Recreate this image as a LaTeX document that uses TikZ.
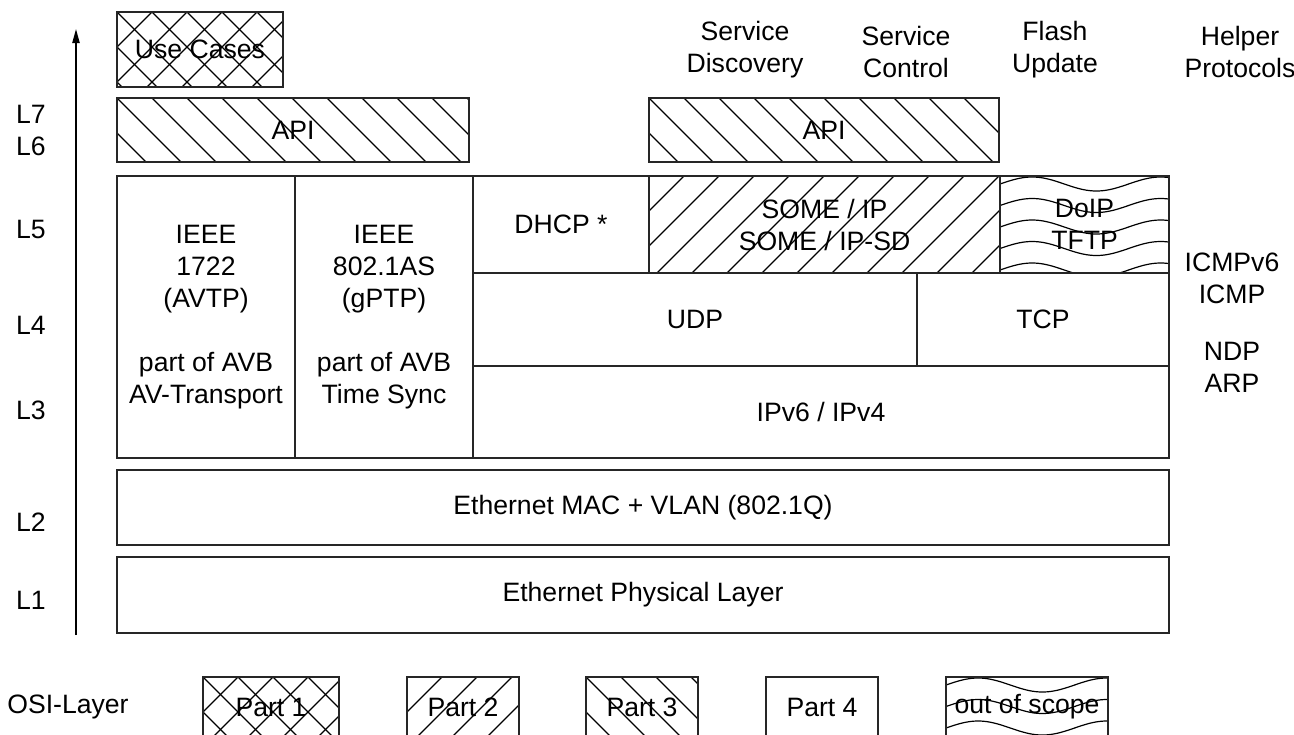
\documentclass[tikz,border=0pt]{standalone}
\usepackage{fontspec}
\setmainfont{Liberation Sans}
\usetikzlibrary{arrows.meta,fit}
\newcommand\fsz{\fontsize{13.3}{16}\selectfont}
\tikzset{
  boxst/.style={draw=black!85, line width=0.75pt, inner sep=0pt},
  hl/.style={line width=0.6pt, black},
  txt/.style={align=center, font=\fsz, inner sep=0pt},
}
% "\" hatching
\newcommand\hbk[4]{\begin{scope}\clip (#1,#2) rectangle (#3,#4);
  \foreach \k in {-3,...,12}{\draw[hl] ({#1+35*\k},#2) -- ++(100,100);}
  \end{scope}}
% "/" hatching
\newcommand\hfw[4]{\begin{scope}\clip (#1,#2) rectangle (#3,#4);
  \foreach \k in {0,...,15}{\draw[hl] ({#1+35*\k},#2) -- ++(-100,100);}
  \end{scope}}
% cross hatching
\newcommand\hcr[4]{\hbk{#1}{#2}{#3}{#4}\hfw{#1}{#2}{#3}{#4}}
% waves
\newcommand\hwv[4]{\begin{scope}\clip (#1,#2) rectangle (#3,#4);
  \foreach \r in {0,...,5}{\draw[hl,domain=#1:#3,samples=70,smooth,variable=\t]
     plot (\t,{#2+8+21.5*\r-7*sin(2.8*(\t-#1))});}
  \end{scope}}
\begin{document}
\begin{tikzpicture}[x=0.5pt,y=-0.5pt]
\clip (0,0) rectangle (1294,734);
% hatching
\hcr{117}{12}{283}{87}
\hbk{117}{98}{469}{162}
\hbk{649}{98}{999}{162}
\hfw{649}{176}{1000}{273}
\hwv{1000}{176}{1169}{273}
\hcr{203}{677}{339}{760}
\hfw{407}{677}{519}{760}
\hbk{586}{677}{698}{760}
\hwv{946}{677}{1108}{760}
% arrow
\coordinate (abot) at (76,635);
\coordinate (atop) at (76,29);
\draw[line width=0.75pt, -{Triangle[length=7pt,width=3.6pt]}] (abot) -- (atop);
% boxes
\node[boxst, fit={(117,12) (283,87)}] (usecases) {};
\node[boxst, fit={(117,98) (469,162)}] (api1) {};
\node[boxst, fit={(649,98) (999,162)}] (api2) {};
\node[boxst, fit={(117,176) (295,458)}] (avtp) {};
\node[boxst, fit={(295,176) (473,458)}] (gptp) {};
\node[boxst, fit={(473,176) (649,273)}] (dhcp) {};
\node[boxst, fit={(649,176) (1000,273)}] (someip) {};
\node[boxst, fit={(1000,176) (1169,273)}] (doip) {};
\node[boxst, fit={(473,273) (917,366)}] (udp) {};
\node[boxst, fit={(917,273) (1169,366)}] (tcp) {};
\node[boxst, fit={(473,366) (1169,458)}] (ip) {};
\node[boxst, fit={(117,470) (1169,545)}] (mac) {};
\node[boxst, fit={(117,557) (1169,633)}] (phy) {};
% box texts
\node[txt] (usecasest) at (usecases.center) {Use Cases};
\node[txt] (api1t) at (api1.center) {API};
\node[txt] (api2t) at (api2.center) {API};
\node[txt] (avtpt) at (avtp.center) {IEEE\\1722\\(AVTP)\\[16pt]part of AVB\\AV-Transport};
\node[txt] (gptpt) at (gptp.center) {IEEE\\802.1AS\\(gPTP)\\[16pt]part of AVB\\Time Sync};
\node[txt] (dhcpt) at (dhcp.center) {DHCP *};
\node[txt] (someipt) at (someip.center) {SOME / IP\\SOME / IP-SD};
\node[txt] (doipt) at (doip.center) {DoIP\\TFTP};
\node[txt] (udpt) at (udp.center) {UDP};
\node[txt] (tcpt) at (tcp.center) {TCP};
\node[txt] (ipt) at (ip.center) {IPv6 / IPv4};
\node[txt] (mact) at (mac.center) {Ethernet MAC + VLAN (802.1Q)};
\node[txt] (phyt) at (phy.center) {Ethernet Physical Layer};
% top labels
\node[txt] (sd) at (745,50) {Service\\Discovery};
\node[txt] (sc) at (906,52) {Service\\Control};
\node[txt] (fu) at (1055,50) {Flash\\Update};
\node[txt] (hp) at (1240,52) {Helper\\Protocols};
% right labels
\node[txt] (icmp) at (1232,278) {ICMPv6\\ICMP};
\node[txt] (ndp) at (1232,367) {NDP\\ARP};
% layer labels
\node[txt] (l76) at (31,130) {L7\\L6};
\node[txt] (l5) at (31,229) {L5};
\node[txt] (l4) at (31,325) {L4};
\node[txt] (l3) at (31,410) {L3};
\node[txt] (l2) at (31,522) {L2};
\node[txt] (l1) at (31,600) {L1};
% legend
\node[txt] (osi) at (68,707) {OSI-Layer};
\node[boxst, fit={(203,677) (339,760)}] (p1) {};
\node[txt] (p1t) at (271,707) {Part 1};
\node[boxst, fit={(407,677) (519,760)}] (p2) {};
\node[txt] (p2t) at (463,707) {Part 2};
\node[boxst, fit={(586,677) (698,760)}] (p3) {};
\node[txt] (p3t) at (642,707) {Part 3};
\node[boxst, fit={(766,677) (878,760)}] (p4) {};
\node[txt] (p4t) at (822,707) {Part 4};
\node[boxst, fit={(946,677) (1108,760)}] (oos) {};
\node[txt] (oost) at (1027,707) {out of scope};
\end{tikzpicture}
\end{document}
